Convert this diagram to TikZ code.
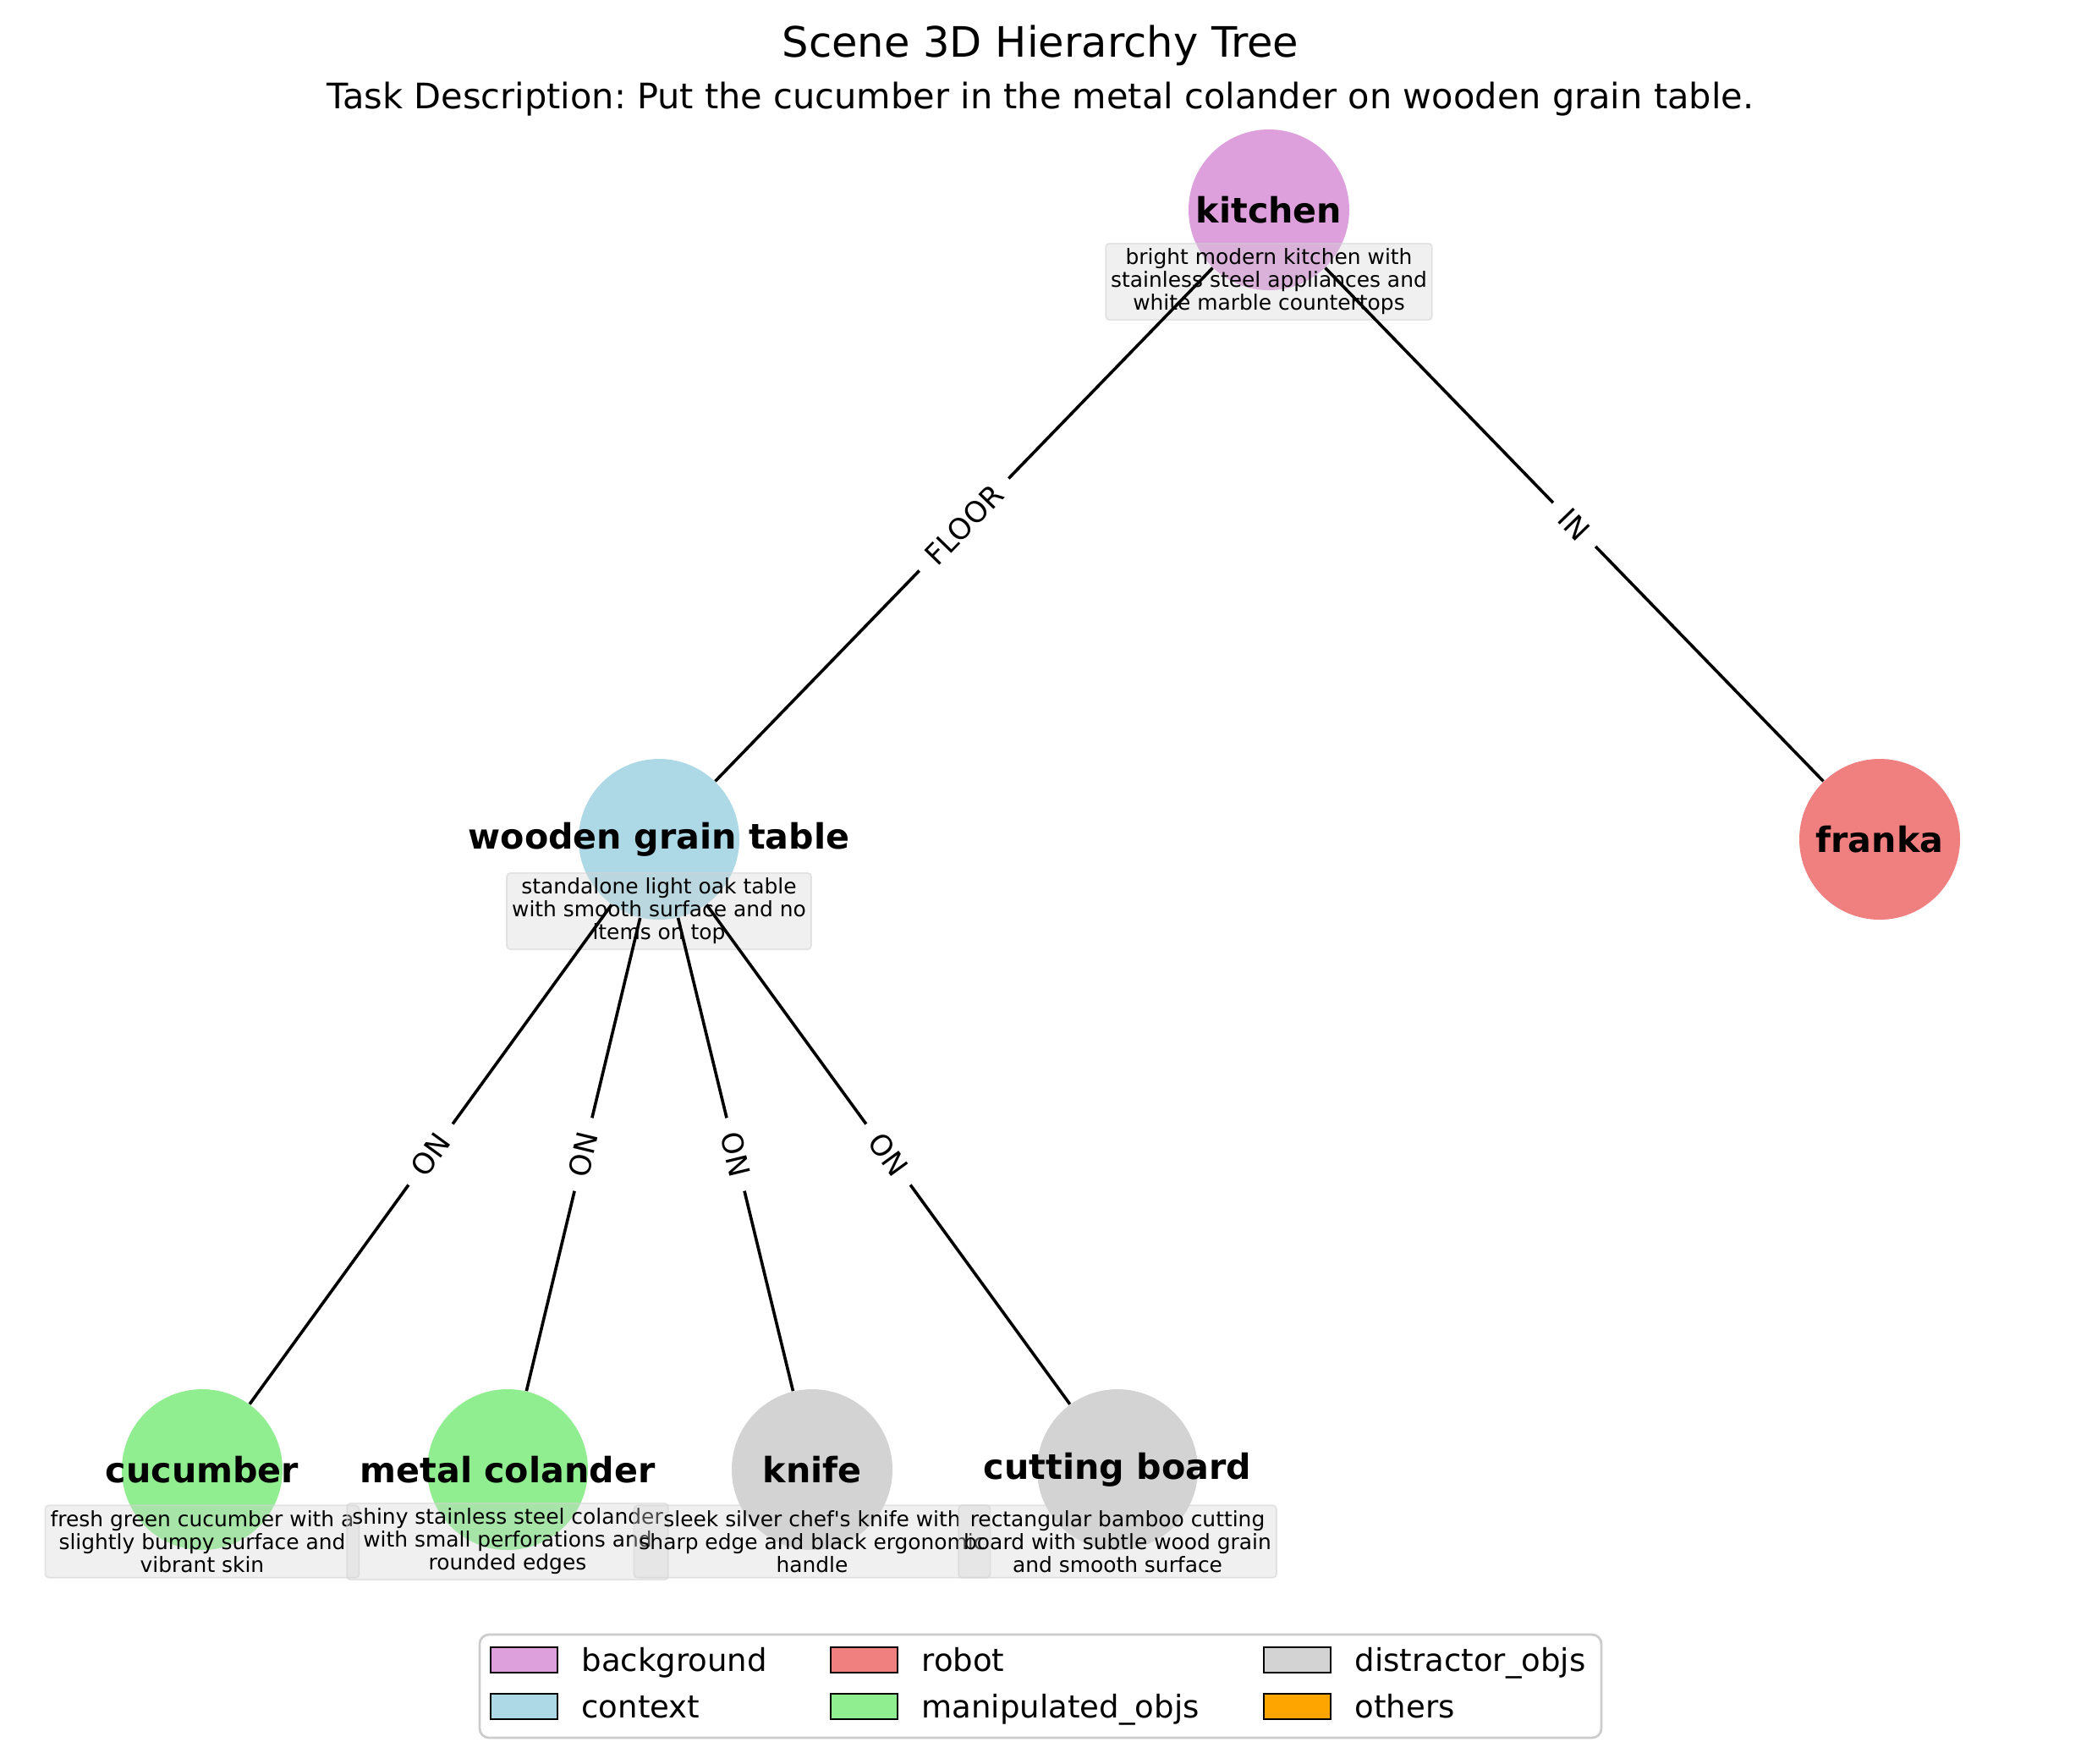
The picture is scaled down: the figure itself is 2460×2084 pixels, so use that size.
\documentclass[tikz,border=0pt]{standalone}
\usepackage{fontspec}
\setmainfont{DejaVu Sans}
\usetikzlibrary{positioning}
\frenchspacing

\definecolor{bgcol}{HTML}{DDA0DD}
\definecolor{ctxcol}{HTML}{ADD8E6}
\definecolor{robcol}{HTML}{F08080}
\definecolor{mancol}{HTML}{90EE90}
\definecolor{discol}{HTML}{D3D3D3}
\definecolor{othcol}{HTML}{FFA500}

\begin{document}
\begin{tikzpicture}[x=0.127mm, y=-0.127mm,
    obj/.style={circle, minimum size=24.13mm, inner sep=0pt},
    objname/.style={font=\fontsize{14.9}{17}\selectfont\bfseries},
    descbox/.style={fill=discol, fill opacity=0.35, text opacity=1, draw=discol, draw opacity=0.6,
        line width=0.6pt, rounded corners=1.5pt, align=center, inner sep=2.2pt,
        font=\fontsize{9}{9.76}\selectfont},
    edge/.style={line width=1.3pt},
    rel/.style={sloped, fill=white, inner xsep=6.5pt, inner ysep=2pt, font=\fontsize{12.4}{14}\selectfont},
    legtext/.style={font=\fontsize{13.4}{16}\selectfont, inner sep=0pt}]
    \useasboundingbox (0,0) rectangle (2460,2084);

    \node[anchor=base, font=\fontsize{17.9}{21}\selectfont] (title) at (1230,67) {Scene 3D Hierarchy Tree};
    \node[anchor=base, font=\fontsize{15}{17}\selectfont] (subtitle) at (1230,128)
        {Task Description: Put the cucumber in the metal colander on wooden grain table.};

    % objects
    \node[obj, fill=bgcol, label={[objname]center:kitchen}] (kitchen) at (1500,248) {};
    \node[obj, fill=ctxcol, label={[objname]center:wooden grain table}] (table) at (779,992) {};
    \node[obj, fill=robcol, label={[objname]center:franka}] (franka) at (2222,992) {};
    \node[obj, fill=mancol, label={[objname]center:cucumber}] (cucumber) at (239,1737) {};
    \node[obj, fill=mancol, label={[objname]center:metal colander}] (colander) at (600,1737) {};
    \node[obj, fill=discol, label={[objname]center:knife}] (knife) at (960,1737) {};
    \node[obj, fill=discol, label={[objname]center:cutting board}] (board) at (1321,1737) {};

    % descriptions
    \node[descbox] (kitchendesc) at (1500,333) {bright modern kitchen with\\stainless steel appliances and\\white marble countertops};
    \node[descbox] (tabledesc) at (779,1077) {standalone light oak table\\with smooth surface and no\\items on top};
    \node[descbox] (cucumberdesc) at (239,1822) {fresh green cucumber with a\\slightly bumpy surface and\\vibrant skin};
    \node[descbox] (colanderdesc) at (600,1822) {shiny stainless steel colander\\with small perforations and\\rounded edges};
    \node[descbox] (knifedesc) at (960,1822) {sleek silver chef\textquotesingle s knife with\\sharp edge and black ergonomic\\handle};
    \node[descbox] (boarddesc) at (1321,1822) {rectangular bamboo cutting\\board with subtle wood grain\\and smooth surface};

    % relations
    \draw[edge] (kitchen) -- node[rel] (floorlbl) {FLOOR} (table);
    \draw[edge] (kitchen) -- node[rel] (inlbl) {IN} (franka);
    \draw[edge] (table) -- node[rel] (onlbla) {ON} (cucumber);
    \draw[edge] (table) -- node[rel] (onlblb) {ON} (colander);
    \draw[edge] (table) -- node[rel] (onlblc) {ON} (knife);
    \draw[edge] (table) -- node[rel] (onlbld) {ON} (board);

    % legend
    \draw[draw=black!20, line width=1pt, rounded corners=4pt] (567,1932) rectangle (1893,2054);
    \foreach \i/\cname/\col/\lx/\ly in {
        1/background/bgcol/580/1962,
        2/context/ctxcol/580/2017,
        3/robot/robcol/982/1962,
        4/manipulated\_objs/mancol/982/2017,
        5/distractor\_objs/discol/1494/1962,
        6/others/othcol/1494/2017
    } {
        \draw[fill=\col, line width=0.8pt] (\lx,\ly-15) rectangle (\lx+79,\ly+15);
        \node[legtext, anchor=base west] (leg\i) at (\lx+107,\ly+13) {\cname};
    }
\end{tikzpicture}
\end{document}
